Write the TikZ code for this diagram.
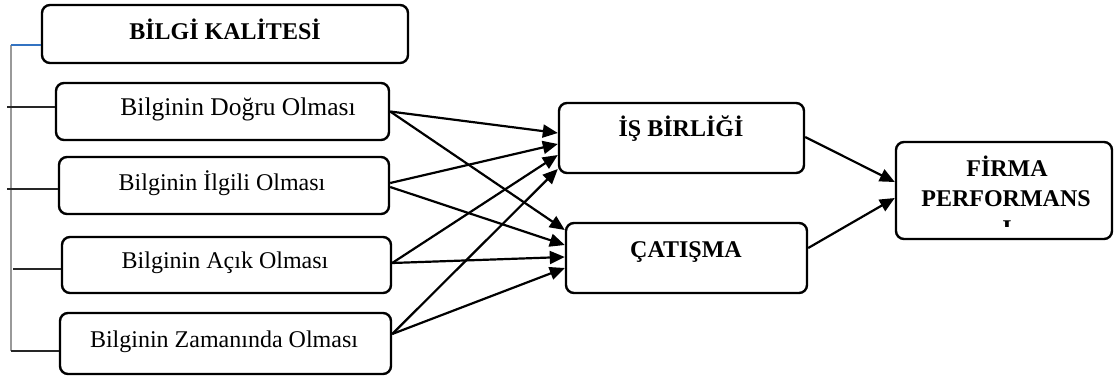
\documentclass[tikz,border=0pt]{standalone}
\usepackage{fontspec}
\setmainfont{Liberation Serif}
\usetikzlibrary{arrows.meta}
\tikzset{
  box/.style={draw=black, line width=2.4pt, rounded corners=8pt, inner sep=0pt},
  txt/.style={font=\fontsize{24}{30}\selectfont, anchor=base, inner sep=0pt},
  head/.style={font=\fontsize{24}{30}\selectfont\bfseries, anchor=base, inner sep=0pt},
  arr/.style={line width=2.2pt, -{Triangle[length=15pt,width=13pt]}},
  brk/.style={line width=1.2pt, black!85},
}
\begin{document}
\begin{tikzpicture}[x=1pt,y=-1pt]
\useasboundingbox (0,0) rectangle (1115,380);
% boxes
\node[box, minimum width=366pt, minimum height=58pt] (bk) at (225,34) {};
\node[box, minimum width=333pt, minimum height=57pt] (d1) at (222.5,111.5) {};
\node[box, minimum width=330pt, minimum height=57pt] (d2) at (224,185.5) {};
\node[box, minimum width=329pt, minimum height=56pt] (d3) at (226.5,265) {};
\node[box, minimum width=331pt, minimum height=61pt] (d4) at (225.5,343.5) {};
\node[box, minimum width=245pt, minimum height=70pt] (is) at (681.5,138) {};
\node[box, minimum width=241pt, minimum height=70pt] (ca) at (686.5,258) {};
\node[box, minimum width=216pt, minimum height=97pt] (fp) at (1004,190.5) {};
% texts
\node[head] (bkt) at (225,39) {BİLGİ KALİTESİ};
\node[txt, font=\fontsize{25.5}{30}\selectfont] (d1t) at (238,115) {Bilginin Doğru Olması};
\node[txt] (d2t) at (222,190) {Bilginin İlgili Olması};
\node[txt] (d3t) at (225,268) {Bilginin Açık Olması};
\node[txt] (d4t) at (224,347) {Bilginin Zamanında Olması};
\node[head] (ist) at (681,136) {İŞ BİRLİĞİ};
\node[head] (cat) at (686,257) {ÇATIŞMA};
\node[head] (fp1) at (1007,176) {FİRMA};
\node[head] (fp2) at (1006,206) {PERFORMANS};
\begin{scope}
  \clip (985,220) rectangle (1030,226);
  \node[head] (fp3) at (1007,236) {I};
\end{scope}
% bracket
\coordinate (top) at (11,45);
\coordinate (bot) at (11,351);
\coordinate (l1) at (7,107);
\coordinate (l2) at (7,189);
\coordinate (l3) at (13,269);
\draw[line width=1.4pt, black!40] (top) -- (bot);
\draw[line width=1.1pt, blue!55!cyan!70!black!80] (top) -- ([yshift=-11pt]bk.west);
\draw[brk] (l1) -- (l1 -| d1.west);
\draw[brk] (l2) -- (l2 -| d2.west);
\draw[brk] (l3) -- (l3 -| d3.west);
\draw[brk] (bot) -- (bot -| d4.west);
% arrows
\draw[arr] (d1.east) -- ([yshift=5pt]is.west);
\draw[arr] (d1.east) -- ([yshift=28pt]ca.west);
\draw[arr] ([yshift=2.5pt]d2.east) -- ([yshift=-6pt]is.west);
\draw[arr] ([yshift=-1.5pt]d2.east) -- ([yshift=13pt]ca.west);
\draw[arr] ([yshift=2pt]d3.east) -- ([yshift=-17pt]is.west);
\draw[arr] ([yshift=2pt]d3.east) -- ([yshift=1pt]ca.west);
\draw[arr] ([yshift=9.5pt]d4.east) -- ([yshift=-31pt]is.west);
\draw[arr] ([yshift=9.5pt]d4.east) -- ([yshift=-10pt]ca.west);
\draw[arr] ([yshift=1pt]is.east) -- ([yshift=8.5pt]fp.west);
\draw[arr] ([yshift=10pt]ca.east) -- ([yshift=-7.5pt]fp.west);
\end{tikzpicture}
\end{document}
